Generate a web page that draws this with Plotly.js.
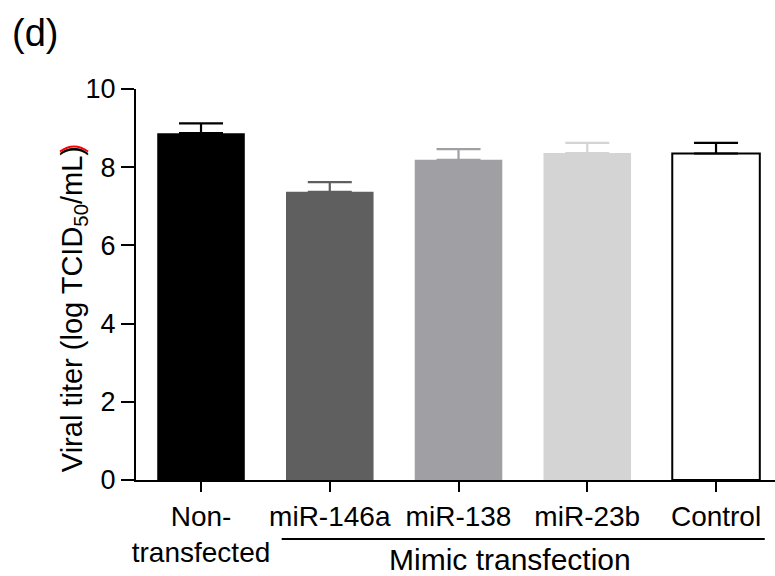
<!DOCTYPE html>
<html>
<head>
<meta charset="utf-8">
<script src="https://cdn.plot.ly/plotly-3.0.1.min.js"></script>
<style>html,body{margin:0;padding:0;background:#fff;}#chart{width:775px;height:576px;}</style>
</head>
<body>
<div id="chart"></div>
<script>
const categories = ["Non-<br>transfected", "miR-146a", "miR-138", "miR-23b", "Control"];
const titers = [8.87, 7.37, 8.19, 8.36, 8.35];
const errors = [0.25, 0.25, 0.27, 0.26, 0.27];
const fillColors = ["#000000", "#5f5f5f", "#a09fa3", "#d4d4d4", "#ffffff"];
const errColors = ["#000000", "#5f5f5f", "#a09fa3", "#d4d4d4", "#000000"];
const yTicks = [0, 2, 4, 6, 8, 10];
const yTitle = "Viral titer (log TCID<sub>50</sub>/mL)";
const groupLabel = "Mimic transfection";
const panelLabel = "(d)";

const FONT = "Liberation Sans, Arial, sans-serif";

const traces = categories.map((c, i) => ({
  type: "bar",
  x: [c],
  y: [titers[i]],
  width: 0.68,
  marker: {
    color: fillColors[i],
    line: { color: i === 4 ? "#000000" : fillColors[i], width: i === 4 ? 2 : 0 }
  },
  error_y: {
    type: "data",
    symmetric: false,
    array: [errors[i]],
    arrayminus: [0],
    color: errColors[i],
    thickness: 2.2,
    width: 22
  },
  showlegend: false,
  hoverinfo: "skip"
}));

const layout = {
  width: 775,
  height: 576,
  margin: { l: 136, r: 0, t: 89, b: 96 },
  paper_bgcolor: "#ffffff",
  plot_bgcolor: "#ffffff",
  barmode: "overlay",
  font: { family: FONT, color: "#000000" },
  xaxis: {
    type: "category",
    categoryarray: categories,
    range: [-0.505, 4.458],
    showline: true,
    linecolor: "#000000",
    linewidth: 2,
    ticks: "outside",
    ticklen: 10,
    tickwidth: 2,
    tickcolor: "#000000",
    tickangle: 0,
    automargin: false,
    showgrid: false,
    zeroline: false,
    tickfont: { size: 28, family: FONT },
    fixedrange: true
  },
  yaxis: {
    range: [0, 10],
    tickvals: yTicks,
    ticktext: yTicks.map(String),
    showline: true,
    linecolor: "#000000",
    linewidth: 2,
    ticks: "outside",
    ticklen: 13,
    tickwidth: 2,
    tickcolor: "#000000",
    automargin: false,
    showgrid: false,
    zeroline: false,
    tickfont: { size: 27, family: FONT },
    fixedrange: true
  },
  annotations: [
    {
      text: panelLabel,
      xref: "paper", yref: "paper",
      x: -0.197, y: 1.142,
      xanchor: "left", yanchor: "middle",
      showarrow: false,
      font: { size: 38, family: FONT }
    },
    {
      text: yTitle,
      xref: "paper", yref: "paper",
      x: -0.097, y: 0.437,
      xanchor: "center", yanchor: "middle",
      textangle: -90,
      showarrow: false,
      font: { size: 29, family: FONT }
    },
    {
      text: groupLabel,
      xref: "paper", yref: "paper",
      x: 0.585, y: -0.203,
      xanchor: "center", yanchor: "middle",
      showarrow: false,
      font: { size: 30, family: FONT }
    }
  ],
  shapes: [
    {
      type: "line",
      xref: "paper", yref: "paper",
      x0: 0.228, x1: 0.984, y0: -0.151, y1: -0.151,
      line: { color: "#000000", width: 2 }
    },
    {
      type: "path",
      xref: "paper", yref: "paper",
      path: "M -0.119,0.840 Q -0.097,0.866 -0.075,0.840",
      line: { color: "#ff0000", width: 2 }
    }
  ]
};

Plotly.newPlot("chart", traces, layout, { displayModeBar: false, staticPlot: true });
</script>
</body>
</html>
